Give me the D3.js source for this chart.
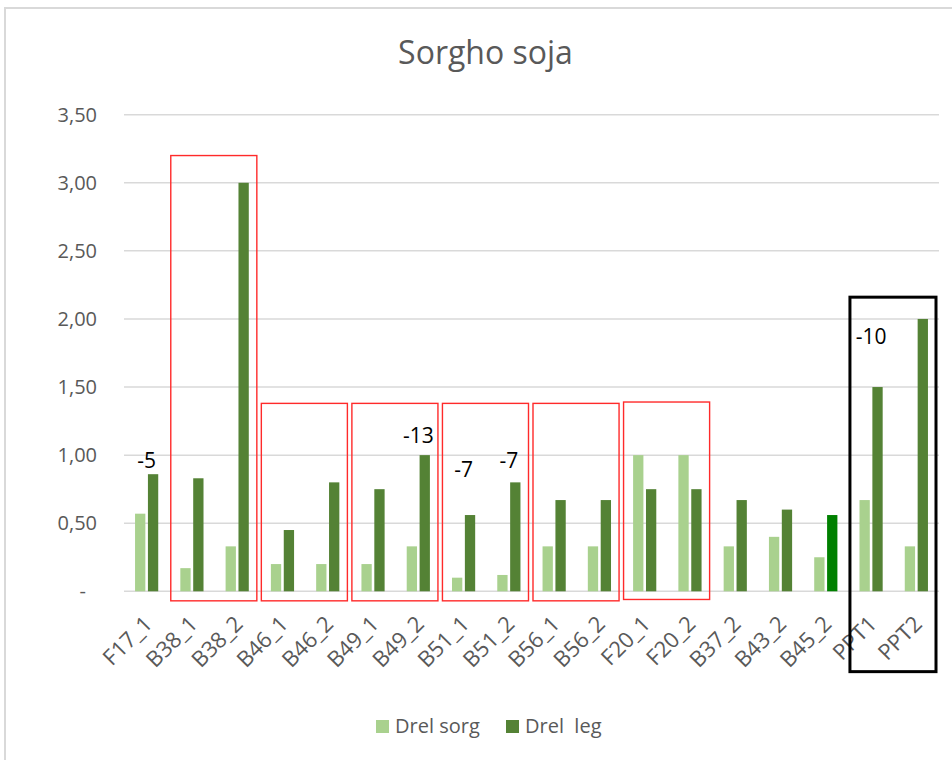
<!DOCTYPE html>
<html>
<head>
<meta charset="utf-8">
<script src="https://cdn.jsdelivr.net/npm/d3@7"></script>
<style>
  body { margin: 0; background: #fff; }
  text { font-family: "Open Sans", sans-serif; }
</style>
</head>
<body>
<div id="chart"></div>
<script>
// Data
const categories = ["F17_1", "B38_1", "B38_2", "B46_1", "B46_2", "B49_1", "B49_2", "B51_1", "B51_2",
  "B56_1", "B56_2", "F20_1", "F20_2", "B37_2", "B43_2", "B45_2", "PPT1", "PPT2"];
const drelSorg = [0.57, 0.17, 0.33, 0.20, 0.20, 0.20, 0.33, 0.10, 0.12,
  0.33, 0.33, 1.00, 1.00, 0.33, 0.40, 0.25, 0.67, 0.33];
const drelLeg = [0.86, 0.83, 3.00, 0.45, 0.80, 0.75, 1.00, 0.56, 0.80,
  0.67, 0.67, 0.75, 0.75, 0.67, 0.60, 0.56, 1.50, 2.00];
const seriesNames = ["Drel sorg", "Drel  leg"];
const yTicks = [0, 0.5, 1, 1.5, 2, 2.5, 3, 3.5];

// text notes placed over bars: label, category, value height
const noteLabels = ["-5", "-13", "-7", "-7", "-10"];
const noteCats = ["F17_1", "B49_2", "B51_1", "B51_2", "PPT1"];
const noteValues = [0.96, 1.14, 0.89, 0.96, 1.87];

// highlight boxes: first category, last category, top value, bottom value
const boxFirst = ["B38_1", "B46_1", "B49_1", "B51_1", "B56_1", "F20_1", "PPT1"];
const boxLast = ["B38_2", "B46_2", "B49_2", "B51_2", "B56_2", "F20_2", "PPT2"];
const boxTop = [3.2, 1.38, 1.38, 1.38, 1.38, 1.39, 2.16];
const boxBottom = [-0.07, -0.07, -0.07, -0.07, -0.07, -0.06, -0.59];
const boxColor = ["red", "red", "red", "red", "red", "red", "black"];

const w = 952;
const h = 760;
const plotLeft = 124, plotRight = 939, plotTop = 114.7, plotBottom = 591.3;

const colLight = "#a9d18e";
const colDark = "#548235";
const colSpecial = "#008000"; // B45_2 dark bar

const svg = d3.select("#chart").append("svg")
  .attr("width", w)
  .attr("height", h);

// chart area border
svg.append("rect")
  .attr("x", 5).attr("y", 8)
  .attr("width", w + 20).attr("height", h + 20)
  .attr("fill", "#fff")
  .attr("stroke", "#d9d9d9")
  .attr("stroke-width", 2);

const x0 = d3.scaleBand().domain(categories).range([plotLeft, plotRight]).paddingInner(0).paddingOuter(0);
const bw = x0.bandwidth();
const x1 = d3.scaleBand().domain([0, 1]).range([bw * 0.244, bw * 0.756]).paddingInner(0.2);
const y = d3.scaleLinear().domain([0, 3.5]).range([plotBottom, plotTop]);

// gridlines
svg.append("g")
  .selectAll("line")
  .data(yTicks)
  .join("line")
  .attr("x1", plotLeft).attr("x2", plotRight)
  .attr("y1", d => y(d)).attr("y2", d => y(d))
  .attr("stroke", "#d9d9d9")
  .attr("stroke-width", 1.5);

// y axis labels
const fmt = d => d === 0 ? "-" : d3.format(".2f")(d).replace(".", ",");
const yAxis = d3.axisLeft(y).tickValues(yTicks).tickFormat(fmt).tickSize(0).tickPadding(27);
const gy = svg.append("g").attr("transform", `translate(${plotLeft},0)`).call(yAxis);
gy.select(".domain").remove();
gy.selectAll("text")
  .attr("font-size", 20)
  .attr("font-family", "Open Sans")
  .attr("fill", "#595959")
  .attr("dx", d => d === 0 ? -11 : 0);

// bars
const rows = categories.map((c, i) => ({ cat: c, vals: [drelSorg[i], drelLeg[i]] }));
const groups = svg.append("g")
  .selectAll("g")
  .data(rows)
  .join("g")
  .attr("transform", d => `translate(${x0(d.cat)},0)`);

groups.selectAll("rect")
  .data(d => d.vals.map((v, k) => ({ cat: d.cat, k: k, v: v })))
  .join("rect")
  .attr("x", d => x1(d.k))
  .attr("width", x1.bandwidth())
  .attr("y", d => y(d.v))
  .attr("height", d => y(0) - y(d.v))
  .attr("fill", d => d.k === 0 ? colLight : (d.cat === "B45_2" ? colSpecial : colDark));

// x axis labels
svg.append("g")
  .selectAll("text")
  .data(categories)
  .join("text")
  .attr("transform", d => `translate(${x0(d) + bw / 2 + 7},${plotBottom + 34}) rotate(-45)`)
  .attr("text-anchor", "end")
  .attr("font-size", 22)
  .attr("fill", "#595959")
  .text(d => d);

// highlight boxes
svg.append("g")
  .selectAll("rect")
  .data(boxFirst.map((f, i) => ({ f: f, l: boxLast[i], t: boxTop[i], b: boxBottom[i], c: boxColor[i] })))
  .join("rect")
  .attr("x", d => x0(d.f) + 1.5)
  .attr("width", d => x0(d.l) + bw - 3 - x0(d.f) - 1.5)
  .attr("y", d => y(d.t))
  .attr("height", d => y(d.b) - y(d.t))
  .attr("fill", "none")
  .attr("stroke", d => d.c === "red" ? "#ff2a2a" : "#000")
  .attr("stroke-width", d => d.c === "red" ? 1.4 : 3);

// notes
svg.append("g")
  .selectAll("text")
  .data(noteLabels.map((t, i) => ({ t: t, c: noteCats[i], v: noteValues[i] })))
  .join("text")
  .attr("x", d => x0(d.c) + bw / 2)
  .attr("y", d => y(d.v))
  .attr("dy", "0.35em")
  .attr("text-anchor", "middle")
  .attr("font-size", 21)
  .attr("fill", "#000")
  .text(d => d.t);

// title
svg.append("text")
  .attr("x", (plotLeft + plotRight) / 2 - 46)
  .attr("y", 64)
  .attr("text-anchor", "middle")
  .attr("font-size", 32)
  .attr("fill", "#595959")
  .text("Sorgho soja");

// legend
const legend = svg.append("g").attr("transform", "translate(376,720)");
const legX = [0, 130];
seriesNames.forEach((s, i) => {
  legend.append("rect")
    .attr("x", legX[i]).attr("y", 0)
    .attr("width", 13).attr("height", 13)
    .attr("fill", i === 0 ? colLight : colDark);
  legend.append("text")
    .attr("x", legX[i] + 19).attr("y", 13)
    .attr("font-size", 20)
    .attr("fill", "#595959")
    .style("white-space", "pre")
    .text(s);
});
</script>
</body>
</html>
